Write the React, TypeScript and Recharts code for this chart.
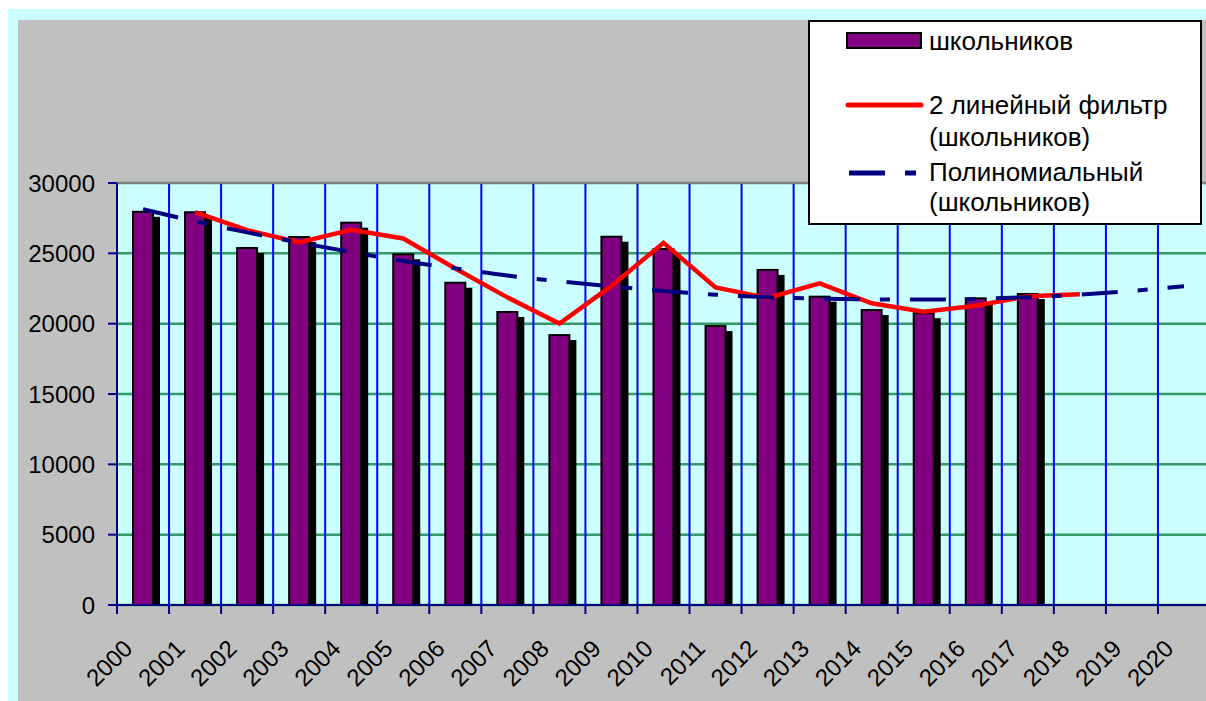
import { Bar, CartesianGrid, ComposedChart, Legend, Line, ReferenceLine, XAxis, YAxis } from 'recharts';

const years = [
  '2000', '2001', '2002', '2003', '2004', '2005', '2006', '2007', '2008', '2009', '2010',
  '2011', '2012', '2013', '2014', '2015', '2016', '2017', '2018', '2019', '2020',
];
const pupils = [
  27950, 27920, 25380, 26160, 27180, 24930, 22910, 20830, 19190, 26180, 25310,
  19830, 23820, 21920, 20970, 20740, 21800, 22110, null, null, null,
];
const movingAvg = [
  null, 27935, 26650, 25770, 26670, 26055, 23920, 21870, 20010, 22685, 25745,
  22570, 21825, 22870, 21445, 20855, 21270, 21955, 22100, null, null,
];
const polyTrend = [
  28130, 27280, 26490, 25760, 25090, 24450, 23930, 23420, 23010, 22660, 22330,
  22060, 21880, 21780, 21720, 21710, 21760, 21880, 22060, 22330, 22660,
];
const yTicks = [0, 5000, 10000, 15000, 20000, 25000, 30000];

const data = years.map((year, i) => ({
  year,
  pupils: pupils[i],
  movingAvg: movingAvg[i],
  polyTrend: polyTrend[i],
}));

const font = "'Liberation Sans', Arial, sans-serif";
const navy = '#000080';

const ShadowBar = (props: any) => {
  const { x, y, width, height } = props;
  if (!height || height <= 0) return null;
  return (
    <g>
      <rect x={x + 7} y={y + 5} width={width} height={Math.max(0, height - 5)} fill="#000" />
      <rect x={x} y={y} width={width} height={height} fill="#800080" stroke="#000" strokeWidth={2} />
    </g>
  );
};

const YearTick = (props: any) => {
  const { x, y, payload } = props;
  const half = payload?.offset ?? 26;
  const bx = x - half;
  return (
    <g>
      <line x1={bx} y1={y} x2={bx} y2={y + 9} stroke={navy} strokeWidth={2} />
      <text
        x={x - 9}
        y={y + 45}
        textAnchor="end"
        fontSize={24}
        fontFamily={font}
        fill="#000"
        transform={`rotate(-45 ${x - 9} ${y + 45})`}
      >
        {payload.value}
      </text>
    </g>
  );
};

const textLine = (label: string, top: number) => (
  <div
    style={{
      position: 'absolute',
      left: 119,
      top,
      fontSize: 26,
      lineHeight: '32px',
      fontFamily: font,
      color: '#000',
      whiteSpace: 'nowrap',
    }}
  >
    {label}
  </div>
);

const LegendBox = () => (
  <div
    style={{
      position: 'relative',
      width: 390,
      height: 201,
      background: '#fff',
      border: '2px solid #000',
    }}
  >
    <svg width={120} height={201} style={{ position: 'absolute', left: 0, top: 0 }}>
      <rect x={37} y={11} width={74} height={15} fill="#800080" stroke="#000" strokeWidth={2} />
      <line x1={38} y1={83} x2={111} y2={83} stroke="#ff0000" strokeWidth={5} strokeLinecap="round" />
      <line x1={39} y1={151} x2={75} y2={151} stroke={navy} strokeWidth={5} />
      <line x1={95} y1={151} x2={106} y2={151} stroke={navy} strokeWidth={5} />
    </svg>
    {textLine('школьников', 3)}
    {textLine('2 линейный фильтр', 67)}
    {textLine('(школьников)', 99)}
    {textLine('Полиномиальный', 134)}
    {textLine('(школьников)', 164)}
  </div>
);

export default function App() {
  return (
    <div style={{ position: 'relative', width: 1206, height: 701, overflow: 'hidden', background: '#fff', fontFamily: font }}>
      <style>{'body{margin:0}'}</style>
      <div style={{ position: 'absolute', left: 8, top: 9, right: 0, bottom: 0, background: '#ccffff' }} />
      <div style={{ position: 'absolute', left: 18, top: 20, right: 0, bottom: 0, background: '#c0c0c0' }} />
      <div style={{ position: 'absolute', left: 0, top: 0 }}>
        <ComposedChart width={1220} height={701} data={data} margin={{ top: 183, right: 10, bottom: 6, left: 17 }}>
          <CartesianGrid fill="#ccffff" fillOpacity={1} stroke="#339966" strokeWidth={2.5} vertical={false} />
          <CartesianGrid
            stroke="#0000ff"
            strokeWidth={2}
            horizontal={false}
            verticalCoordinatesGenerator={({ offset }: any) =>
              years.map((_, i) => offset.left + ((i + 1) * offset.width) / years.length)
            }
          />
          <XAxis
            dataKey="year"
            interval={0}
            height={90}
            tickSize={0}
            tickMargin={0}
            tickLine={false}
            axisLine={{ stroke: navy, strokeWidth: 2 }}
            tick={<YearTick />}
          />
          <YAxis
            width={100}
            domain={[0, 30000]}
            ticks={yTicks}
            tickSize={9}
            tickMargin={13}
            axisLine={{ stroke: navy, strokeWidth: 2 }}
            tickLine={{ stroke: navy, strokeWidth: 2 }}
            tick={{ fontSize: 24, fill: '#000', fontFamily: font }}
          />
          <ReferenceLine y={30000} stroke="#808080" strokeWidth={2} />
          <Bar dataKey="pupils" name="школьников" barSize={20} shape={<ShadowBar />} isAnimationActive={false} />
          <Line
            type="linear"
            dataKey="movingAvg"
            name="2 линейный фильтр (школьников)"
            stroke="#ff0000"
            strokeWidth={4.5}
            dot={false}
            activeDot={false}
            isAnimationActive={false}
          />
          <Line
            type="monotone"
            dataKey="polyTrend"
            name="Полиномиальный (школьников)"
            stroke={navy}
            strokeWidth={4}
            strokeDasharray="36 20 10 20"
            dot={false}
            activeDot={false}
            isAnimationActive={false}
          />
          <Legend
            layout="vertical"
            align="center"
            verticalAlign="middle"
            content={<LegendBox />}
            wrapperStyle={{ left: 808, top: 20, width: 394, height: 205 }}
          />
        </ComposedChart>
      </div>
    </div>
  );
}
